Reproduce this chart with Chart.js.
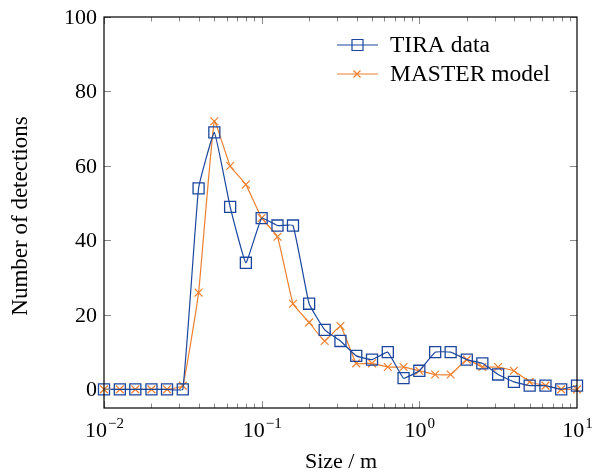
<!DOCTYPE html>
<html>
<head>
<meta charset="utf-8">
<script src="https://cdn.jsdelivr.net/npm/chart.js@4.4.1/dist/chart.umd.min.js"></script>
<style>
  html, body { margin: 0; padding: 0; background: #fff; }
  #wrap { width: 592px; height: 476px; position: relative; }
</style>
</head>
<body>
<div id="wrap"><canvas id="myChart" width="592" height="476"></canvas></div>
<script>
// object size bins (m)
const sizes = [0.01, 0.0126, 0.0158, 0.02, 0.0251, 0.0316, 0.0398, 0.0501, 0.0631, 0.0794,
  0.1, 0.126, 0.158, 0.2, 0.251, 0.316, 0.398, 0.501, 0.631, 0.794,
  1, 1.26, 1.58, 2, 2.51, 3.16, 3.98, 5.01, 6.31, 7.94, 10];

const tiraData = [0, 0, 0, 0, 0, 0, 54, 69, 49, 34,
  46, 44, 44, 23, 16, 13, 9, 8, 10, 3,
  5, 10, 10, 8, 7, 4, 2, 1, 1, 0, 1];

const masterModel = [0, 0, 0, 0, 0, 1, 26, 72, 60, 55,
  46, 41, 23, 18, 13, 17, 7, 7, 6, 6,
  5, 4, 4, 8, 6, 6, 5, 2, 1, 0, 0];

const yTicks = [0, 20, 40, 60, 80, 100];
const xDecades = [-2, -1, 0, 1];

const blue = 'rgb(28, 70, 158)';
const orange = 'rgb(238, 128, 48)';
const serif = '"Liberation Serif", "DejaVu Serif", serif';

function toPoints(values) {
  return sizes.map(function (s, i) { return { x: s, y: values[i] }; });
}

const framePlugin = {
  id: 'frame',
  afterDraw(chart) {
    const ctx = chart.ctx;
    const area = chart.chartArea;
    const xs = chart.scales.x;
    const ys = chart.scales.y;
    ctx.save();

    // tick marks, inward on all four sides
    ctx.strokeStyle = '#8a8a8a';
    ctx.lineWidth = 1;
    ctx.beginPath();
    yTicks.forEach(function (v) {
      const py = Math.round(ys.getPixelForValue(v)) + 0.5;
      ctx.moveTo(area.left, py); ctx.lineTo(area.left + 7, py);
      ctx.moveTo(area.right, py); ctx.lineTo(area.right - 7, py);
    });
    for (let d = -2; d < 1; d++) {
      for (let m = 1; m <= 9; m++) {
        const v = m * Math.pow(10, d);
        const px = Math.round(xs.getPixelForValue(v)) + 0.5;
        const len = m === 1 ? 7 : 4.5;
        ctx.moveTo(px, area.bottom); ctx.lineTo(px, area.bottom - len);
        ctx.moveTo(px, area.top); ctx.lineTo(px, area.top + len);
      }
    }
    ctx.stroke();

    // frame
    ctx.strokeStyle = '#000';
    ctx.lineWidth = 1.2;
    ctx.strokeRect(area.left, area.top, area.right - area.left, area.bottom - area.top);

    // y tick labels
    ctx.fillStyle = '#000';
    ctx.font = '22px ' + serif;
    ctx.textAlign = 'right';
    ctx.textBaseline = 'middle';
    yTicks.forEach(function (v) {
      ctx.fillText(String(v), area.left - 7, ys.getPixelForValue(v) + 1);
    });

    // x tick labels 10^n
    xDecades.forEach(function (d) {
      const px = xs.getPixelForValue(Math.pow(10, d));
      const exp = d < 0 ? '\u2212' + Math.abs(d) : String(d);
      ctx.font = '22px ' + serif;
      const w1 = ctx.measureText('10').width;
      ctx.font = '15px ' + serif;
      const w2 = ctx.measureText(exp).width;
      let x0 = px - (w1 + w2) / 2;
      ctx.textAlign = 'left';
      ctx.textBaseline = 'alphabetic';
      ctx.font = '22px ' + serif;
      ctx.fillText('10', x0, area.bottom + 29);
      ctx.font = '15px ' + serif;
      ctx.fillText(exp, x0 + w1 + 1, area.bottom + 20);
    });

    // axis titles
    ctx.font = '22px ' + serif;
    ctx.textAlign = 'center';
    ctx.textBaseline = 'middle';
    ctx.fillText('Size / m', 341, 462);
    ctx.save();
    ctx.translate(21, 216);
    ctx.rotate(-Math.PI / 2);
    ctx.font = '23px ' + serif;
    ctx.fillText('Number of detections', 0, 0);
    ctx.restore();

    // legend
    const entries = [
      { label: 'TIRA data', color: blue, y: 45, mark: 'square' },
      { label: 'MASTER model', color: orange, y: 74, mark: 'cross' }
    ];
    entries.forEach(function (e) {
      ctx.strokeStyle = e.color;
      ctx.lineWidth = 1.2;
      ctx.beginPath();
      ctx.moveTo(337, e.y); ctx.lineTo(378, e.y);
      ctx.stroke();
      ctx.beginPath();
      if (e.mark === 'square') {
        ctx.rect(352, e.y - 5.5, 11, 11);
      } else {
        ctx.moveTo(353.5, e.y - 3.5); ctx.lineTo(360.5, e.y + 3.5);
        ctx.moveTo(353.5, e.y + 3.5); ctx.lineTo(360.5, e.y - 3.5);
      }
      ctx.stroke();
      ctx.fillStyle = '#000';
      ctx.font = '23.5px ' + serif;
      ctx.textAlign = 'left';
      ctx.textBaseline = 'middle';
      ctx.fillText(e.label, 390, e.y + 1);
    });

    ctx.restore();
  }
};

const ctx = document.getElementById('myChart').getContext('2d');

const chart = new Chart(ctx, {
  type: 'line',
  data: {
    datasets: [{
      label: 'TIRA data',
      data: toPoints(tiraData),
      borderColor: blue,
      backgroundColor: 'rgba(0,0,0,0)',
      borderWidth: 1.2,
      pointStyle: 'rect',
      pointRadius: 7.8,
      pointBorderWidth: 1.3,
      pointBorderColor: blue,
      pointBackgroundColor: 'rgba(0,0,0,0)',
      tension: 0.1,
      clip: false,
    },
    {
      label: 'MASTER model',
      data: toPoints(masterModel),
      borderColor: orange,
      backgroundColor: 'rgba(0,0,0,0)',
      borderWidth: 1.2,
      pointStyle: 'crossRot',
      pointRadius: 5.5,
      pointBorderWidth: 1.2,
      pointBorderColor: orange,
      tension: 0.1,
      clip: false,
    }]
  },
  options: {
    responsive: false,
    animation: false,
    layout: {
      padding: { left: 104, right: 15, top: 17, bottom: 68 },
    },
    scales: {
      x: {
        type: 'logarithmic',
        min: 0.01,
        max: 10,
        display: false,
      },
      y: {
        type: 'linear',
        min: -5,
        max: 100,
        display: false,
      },
    },
    plugins: {
      legend: { display: false },
      tooltip: { enabled: false },
    },
  },
  plugins: [framePlugin],
});
</script>
</body>
</html>
